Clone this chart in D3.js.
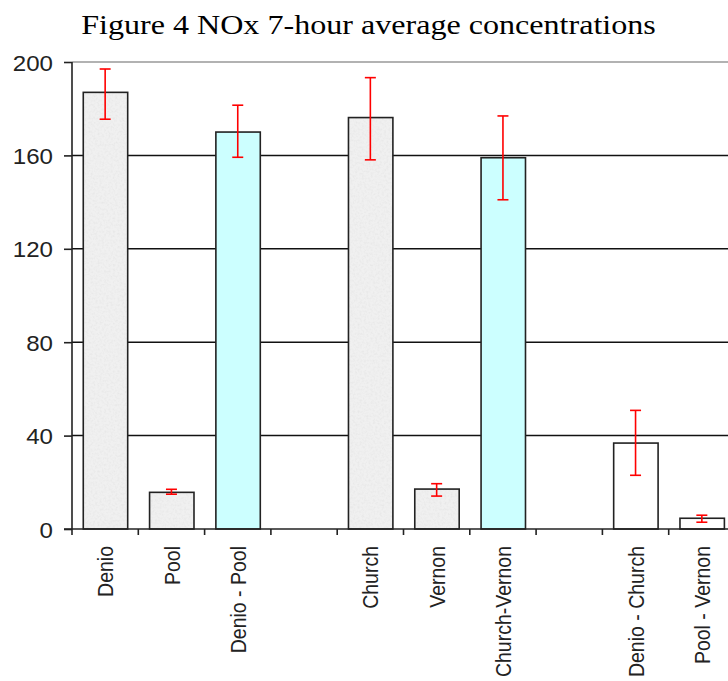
<!DOCTYPE html>
<html><head><meta charset="utf-8">
<script src="https://cdn.jsdelivr.net/npm/d3@7"></script>
<style>html,body{margin:0;padding:0;background:#fff;overflow:hidden}</style>
</head><body>
<svg id="chart" width="728" height="681"></svg>
<script>
const categories = ["Denio","Pool","Denio - Pool","","Church","Vernon","Church-Vernon","","Denio - Church","Pool - Vernon"];
const values     = [187, 15.7, 170, null, 176.2, 17.1, 159, null, 36.8, 4.6];
const errLow     = [175.5, 14.9, 159.2, null, 158.1, 14.1, 141, null, 23, 2.9];
const errHigh    = [197, 17, 181.5, null, 193.3, 19.4, 176.9, null, 50.8, 5.9];
const fillKind   = ["gray","gray","cyan",null,"gray","gray","cyan",null,"white","white"];
const yTicks     = [0, 40, 80, 120, 160, 200];
const title      = "Figure 4 NOx 7-hour average concentrations";

const svg = d3.select("#chart");
const mLeft = 72, mTop = 62, mBottom = 529, mRight = 735;

const defs = svg.append("defs");
const filt = defs.append("filter").attr("id","speck").attr("filterUnits","userSpaceOnUse")
  .attr("x",0).attr("y",0).attr("width",728).attr("height",681);
filt.append("feTurbulence").attr("type","fractalNoise").attr("baseFrequency",0.45).attr("numOctaves",2).attr("seed",3).attr("result","n");
filt.append("feColorMatrix").attr("in","n").attr("type","matrix")
  .attr("values","0 0 0 0 0.80  0 0 0 0 0.80  0 0 0 0 0.80  0 0 0 -2.2 1.25").attr("result","c");
filt.append("feComposite").attr("in","c").attr("in2","SourceGraphic").attr("operator","in").attr("result","m");
filt.append("feMerge").call(g => { g.append("feMergeNode").attr("in","SourceGraphic"); g.append("feMergeNode").attr("in","m"); });

const fills = {gray:"#f0f0f0", cyan:"#ccffff", white:"#ffffff"};

const x = d3.scaleBand().domain(d3.range(categories.length)).range([mLeft, mRight]).padding(0);
const y = d3.scaleLinear().domain([0, 200]).range([mBottom, mTop]);
const bw = x.bandwidth();

// title
svg.append("text").attr("transform","translate(368.5,34) scale(1.167,1)").attr("text-anchor","middle")
  .attr("font-family","'Liberation Serif','Times New Roman',serif").attr("font-size",27.5)
  .attr("fill","#000").text(title);

// top border (gray)
svg.append("line").attr("x1",mLeft).attr("x2",mRight).attr("y1",y(200)).attr("y2",y(200))
  .attr("stroke","#999").attr("stroke-width",1.5);

// gridlines
svg.append("g").selectAll("line").data(yTicks.filter(t => t > 0 && t < 200)).join("line")
  .attr("x1",mLeft).attr("x2",mRight).attr("y1",d=>y(d)).attr("y2",d=>y(d))
  .attr("stroke","#111").attr("stroke-width",1.5);

// bars
const idx = d3.range(categories.length).filter(i => values[i] != null);
const bars = svg.append("g").selectAll("g").data(idx).join("g");
bars.append("rect")
  .attr("x", i => x(i) + bw*0.17).attr("width", bw*0.67)
  .attr("y", i => y(values[i])).attr("height", i => y(0) - y(values[i]))
  .attr("fill", i => fills[fillKind[i]])
  .attr("filter", i => fillKind[i] === "gray" ? "url(#speck)" : null);
bars.append("rect")
  .attr("x", i => x(i) + bw*0.17).attr("width", bw*0.67)
  .attr("y", i => y(values[i])).attr("height", i => y(0) - y(values[i]))
  .attr("fill", "none").attr("stroke","#222").attr("stroke-width",1.6);

// error bars
const eg = svg.append("g").attr("stroke","#ff0000").attr("stroke-width",1.6);
idx.forEach(i => {
  const cx = x(i) + bw/2;
  eg.append("line").attr("x1",cx).attr("x2",cx).attr("y1",y(errLow[i])).attr("y2",y(errHigh[i]));
  eg.append("line").attr("x1",cx-5.5).attr("x2",cx+5.5).attr("y1",y(errLow[i])).attr("y2",y(errLow[i]));
  eg.append("line").attr("x1",cx-5.5).attr("x2",cx+5.5).attr("y1",y(errHigh[i])).attr("y2",y(errHigh[i]));
});

// y axis
const yAxis = d3.axisLeft(y).tickValues(yTicks).tickSize(8).tickPadding(9.8).tickFormat(d3.format("d"));
const yg = svg.append("g").attr("transform",`translate(${mLeft},0)`).call(yAxis);
yg.select(".domain").attr("stroke","#222").attr("stroke-width",1.6).attr("d",`M0,${mTop}V${mBottom}`);
yg.selectAll(".tick line").attr("stroke","#222").attr("stroke-width",1.6);
yg.selectAll(".tick text").attr("font-family","'Liberation Sans',Arial,sans-serif").attr("font-size",22.5).attr("fill","#222")
  .attr("dy","0.36em").attr("transform","scale(1.07,1)");

// x axis
svg.append("line").attr("x1",mLeft-8).attr("x2",mRight).attr("y1",mBottom).attr("y2",mBottom).attr("stroke","#222").attr("stroke-width",1.6);
const bounds = d3.range(categories.length+1).map(i => mLeft + i*bw);
svg.append("g").selectAll("line").data(bounds).join("line")
  .attr("x1",d=>d).attr("x2",d=>d).attr("y1",mBottom).attr("y2",mBottom+6)
  .attr("stroke","#222").attr("stroke-width",1.6);

// category labels
svg.append("g").selectAll("text").data(d3.range(categories.length)).join("text")
  .attr("transform", i => `translate(${x(i)+bw/2},546) scale(1.15,1) rotate(-90)`)
  .attr("text-anchor","end").attr("dy","0.36em")
  .attr("font-family","'Liberation Sans',Arial,sans-serif").attr("font-size",19.5).attr("fill","#222")
  .text(i => categories[i]);
</script>
</body></html>
